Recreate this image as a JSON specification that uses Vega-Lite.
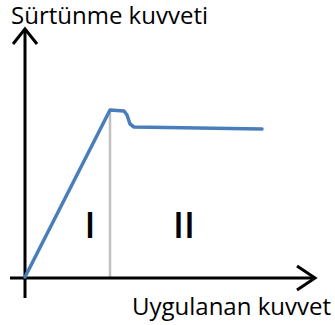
{
  "$schema": "https://vega.github.io/schema/vega-lite/v6.json",
  "width": 335,
  "height": 325,
  "autosize": {"type": "none"},
  "padding": 0,
  "background": "white",
  "config": {"view": {"stroke": null}},
  "datasets": {
    "axes": [
      {"part": "yaxis", "ord": 1, "x": 0, "y": 249},
      {"part": "yaxis", "ord": 2, "x": 0, "y": -20},
      {"part": "xaxis", "ord": 1, "x": -15, "y": 0},
      {"part": "xaxis", "ord": 2, "x": 290, "y": 0},
      {"part": "yhead", "ord": 1, "x": -12, "y": 234},
      {"part": "yhead", "ord": 2, "x": 0, "y": 249},
      {"part": "yhead", "ord": 3, "x": 12, "y": 234},
      {"part": "xhead", "ord": 1, "x": 272, "y": 12},
      {"part": "xhead", "ord": 2, "x": 290, "y": 0},
      {"part": "xhead", "ord": 3, "x": 272, "y": -12}
    ],
    "friction": [
      {"kuvvet": 0, "surtunme": 1},
      {"kuvvet": 85, "surtunme": 168},
      {"kuvvet": 99, "surtunme": 167},
      {"kuvvet": 102, "surtunme": 163},
      {"kuvvet": 105, "surtunme": 154},
      {"kuvvet": 109, "surtunme": 151},
      {"kuvvet": 237, "surtunme": 149}
    ],
    "divider": [
      {"kuvvet": 85, "alt": 0, "ust": 168}
    ],
    "labels": [
      {"text": "I", "x": 65, "y": 40},
      {"text": "II", "x": 159, "y": 40}
    ],
    "ytitle": [
      {"text": "Sürtünme kuvveti", "x": -14, "y": 254}
    ],
    "xtitle": [
      {"text": "Uygulanan kuvvet", "x": 306, "y": -37}
    ]
  },
  "encoding": {
    "x": {"type": "quantitative", "scale": {"domain": [-25, 310], "nice": false, "zero": false}, "axis": null},
    "y": {"type": "quantitative", "scale": {"domain": [-47, 278], "nice": false, "zero": false}, "axis": null}
  },
  "layer": [
    {
      "data": {"name": "divider"},
      "mark": {"type": "rule", "color": "#C0C0C0", "strokeWidth": 2.5},
      "encoding": {
        "x": {"field": "kuvvet", "type": "quantitative"},
        "y": {"field": "alt", "type": "quantitative"},
        "y2": {"field": "ust"}
      }
    },
    {
      "data": {"name": "axes"},
      "mark": {"type": "line", "color": "black", "strokeWidth": 3, "strokeJoin": "miter"},
      "encoding": {
        "x": {"field": "x", "type": "quantitative"},
        "y": {"field": "y", "type": "quantitative"},
        "detail": {"field": "part"},
        "order": {"field": "ord"}
      }
    },
    {
      "data": {"name": "friction"},
      "mark": {"type": "line", "color": "#4A7EBB", "strokeWidth": 3.5, "strokeJoin": "round", "strokeCap": "round"},
      "encoding": {
        "x": {"field": "kuvvet", "type": "quantitative"},
        "y": {"field": "surtunme", "type": "quantitative"}
      }
    },
    {
      "data": {"name": "labels"},
      "mark": {"type": "text", "font": "Open Sans", "fontSize": 36, "fontWeight": 600, "align": "center", "baseline": "alphabetic", "color": "black"},
      "encoding": {
        "x": {"field": "x", "type": "quantitative"},
        "y": {"field": "y", "type": "quantitative"},
        "text": {"field": "text"}
      }
    },
    {
      "data": {"name": "ytitle"},
      "mark": {"type": "text", "font": "Open Sans", "fontSize": 24, "align": "left", "baseline": "alphabetic", "color": "black"},
      "encoding": {
        "x": {"field": "x", "type": "quantitative"},
        "y": {"field": "y", "type": "quantitative"},
        "text": {"field": "text"}
      }
    },
    {
      "data": {"name": "xtitle"},
      "mark": {"type": "text", "font": "Open Sans", "fontSize": 24, "align": "right", "baseline": "alphabetic", "color": "black"},
      "encoding": {
        "x": {"field": "x", "type": "quantitative"},
        "y": {"field": "y", "type": "quantitative"},
        "text": {"field": "text"}
      }
    }
  ]
}
